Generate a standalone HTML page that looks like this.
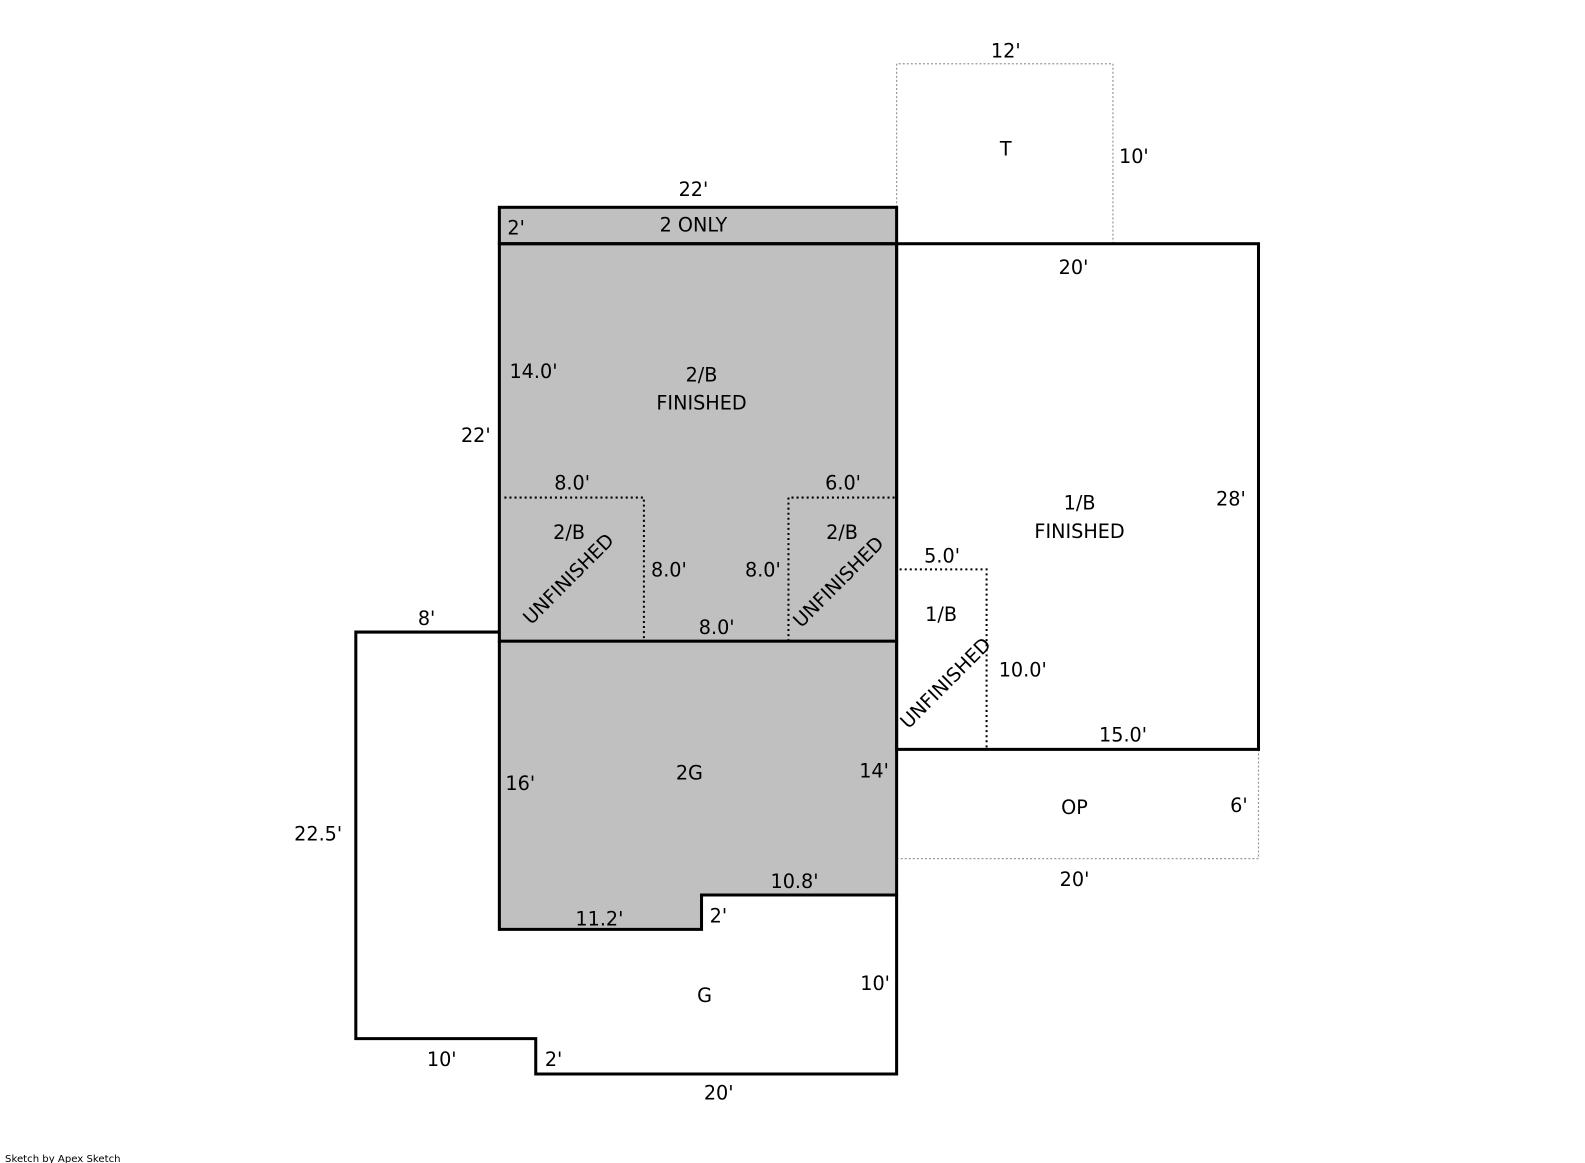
<!DOCTYPE html>
<html><head><style>
html,body{margin:0;padding:0;background:#fff;overflow:hidden;}
svg{display:block;}
svg text{font-family:"DejaVu Sans","Liberation Sans",sans-serif;font-size:19px;fill:#000;}
</style></head><body>
<svg width="1585" height="1163" viewBox="0 0 1568 1150" preserveAspectRatio="none" xmlns="http://www.w3.org/2000/svg">
<rect x="494" y="205" width="393" height="429" fill="#c0c0c0"/>
<polygon points="494,634 887,634 887,885 694,885 694,919 494,919" fill="#c0c0c0"/>
<g fill="none" stroke="#999" stroke-width="1.2" stroke-dasharray="2,2">
<polyline points="887,241 887,63 1101,63 1101,241"/>
<polyline points="887,741 887,849 1245,849 1245,741"/>
</g>
<g fill="none" stroke="#000" stroke-width="2" stroke-dasharray="2,3">
<polyline points="499,492 637,492 637,634"/>
<polyline points="780,634 780,492 885,492"/>
<polyline points="890,563 976,563 976,741"/>
</g>
<g fill="none" stroke="#000" stroke-width="3">
<rect x="494" y="205" width="393" height="36"/>
<rect x="494" y="241" width="393" height="393"/>
<polyline points="494,634 494,919 694,919 694,885 887,885 887,634"/>
<rect x="887" y="241" width="358" height="500"/>
<polyline points="494,625 352,625 352,1027 530,1027 530,1062 887,1062 887,885"/>
</g>
<text x="995" y="57" text-anchor="middle">12'</text>
<text x="995" y="154" text-anchor="middle">T</text>
<text x="1107" y="161">10'</text>
<text x="686" y="194" text-anchor="middle">22'</text>
<text x="502" y="232">2'</text>
<text x="686" y="229" text-anchor="middle">2 ONLY</text>
<text x="1062" y="271" text-anchor="middle">20'</text>
<text x="504" y="374">14.0'</text>
<text x="694" y="377" text-anchor="middle">2/B</text>
<text x="694" y="405" text-anchor="middle">FINISHED</text>
<text x="456" y="437">22'</text>
<text x="566" y="484" text-anchor="middle">8.0'</text>
<text x="834" y="484" text-anchor="middle">6.0'</text>
<text x="1068" y="504" text-anchor="middle">1/B</text>
<text x="1068" y="532" text-anchor="middle">FINISHED</text>
<text x="1203" y="500">28'</text>
<text x="563" y="533" text-anchor="middle">2/B</text>
<text x="833" y="533" text-anchor="middle">2/B</text>
<text x="932" y="556" text-anchor="middle">5.0'</text>
<text x="644" y="570">8.0'</text>
<text x="737" y="570">8.0'</text>
<text x="931" y="614" text-anchor="middle">1/B</text>
<text x="567" y="577" text-anchor="middle" transform="rotate(-45 567 577)">UNFINISHED</text>
<text x="834" y="580" text-anchor="middle" transform="rotate(-45 834 580)">UNFINISHED</text>
<text x="940" y="680" text-anchor="middle" transform="rotate(-45 940 680)">UNFINISHED</text>
<text x="422" y="618" text-anchor="middle">8'</text>
<text x="709" y="627" text-anchor="middle">8.0'</text>
<text x="988" y="669">10.0'</text>
<text x="1111" y="733" text-anchor="middle">15.0'</text>
<text x="682" y="771" text-anchor="middle">2G</text>
<text x="850" y="769">14'</text>
<text x="500" y="781">16'</text>
<text x="1063" y="805" text-anchor="middle">OP</text>
<text x="1217" y="803">6'</text>
<text x="291" y="831">22.5'</text>
<text x="1063" y="876" text-anchor="middle">20'</text>
<text x="786" y="878" text-anchor="middle">10.8'</text>
<text x="593" y="915" text-anchor="middle">11.2'</text>
<text x="702" y="912">2'</text>
<text x="851" y="979">10'</text>
<text x="697" y="991" text-anchor="middle">G</text>
<text x="437" y="1054" text-anchor="middle">10'</text>
<text x="539" y="1054">2'</text>
<text x="711" y="1087" text-anchor="middle">20'</text>
<text x="5" y="1149" style="font-size:10px">Sketch by Apex Sketch</text>
</svg>
</body></html>
